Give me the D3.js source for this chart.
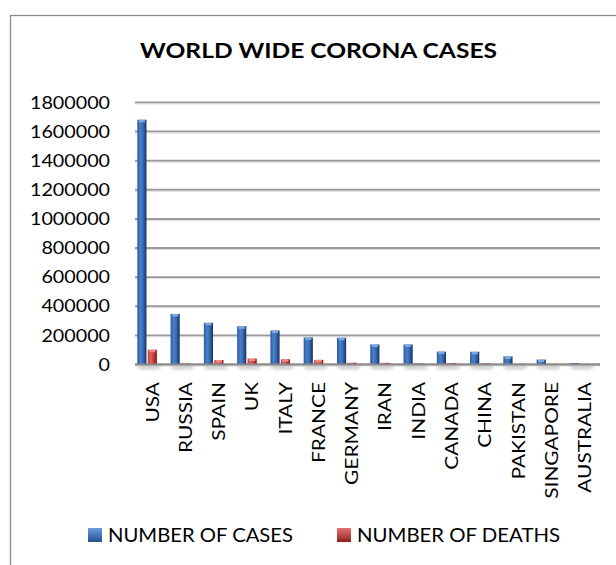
<!DOCTYPE html>
<html>
<head>
<meta charset="utf-8">
<script src="https://cdn.jsdelivr.net/npm/d3@7"></script>
<style>
  html, body { margin: 0; padding: 0; background: #fff; }
  svg { display: block; }
</style>
</head>
<body>
<svg id="chart" width="616" height="565"></svg>
<script>
const categories = ["USA","RUSSIA","SPAIN","UK","ITALY","FRANCE","GERMANY","IRAN","INDIA","CANADA","CHINA","PAKISTAN","SINGAPORE","AUSTRALIA"];
const cases  = [1678000, 344000, 283000, 259000, 230000, 182000, 180000, 134000, 134000, 85000, 84000, 52000, 30000, 7100];
const deaths = [98000, 3800, 27100, 37000, 32900, 28500, 8400, 7500, 3900, 6600, 4600, 1100, 23, 103];
const seriesNames = ["NUMBER OF CASES", "NUMBER OF DEATHS"];
const yTicks = [0, 200000, 400000, 600000, 800000, 1000000, 1200000, 1400000, 1600000, 1800000];
const titleText = "WORLD WIDE CORONA CASES";

const FONT = "Lato, 'Open Sans', sans-serif";
const STRETCH = 1.16;

const svg = d3.select("#chart");

// defs: gradients
const defs = svg.append("defs");
function hGrad(id, stops) {
  const g = defs.append("linearGradient").attr("id", id).attr("x1", "0").attr("x2", "1").attr("y1", "0").attr("y2", "0");
  stops.forEach(s => g.append("stop").attr("offset", s[0]).attr("stop-color", s[1]));
}
hGrad("gBlue", [[0, "#2c5b9e"], [0.35, "#4a7fc9"], [0.6, "#3a6db7"], [1, "#16335f"]]);
hGrad("gRed", [[0, "#c94440"], [0.35, "#e0605c"], [0.6, "#c8403c"], [1, "#7e1715"]]);
const blur = defs.append("filter").attr("id", "sh").attr("x", "-50%").attr("y", "-50%").attr("width", "200%").attr("height", "200%");
blur.append("feGaussianBlur").attr("stdDeviation", 1.6);

// chart border
svg.append("rect").attr("x", 10.5).attr("y", 15.5).attr("width", 640).attr("height", 600)
  .attr("fill", "none").attr("stroke", "#8a8a8a").attr("stroke-width", 1.3);

// title
svg.append("text").attr("x", 140).attr("y", 58)
  .attr("font-family", FONT).attr("font-weight", "bold").attr("font-size", 21)
  .attr("fill", "#000").attr("textLength", 357).attr("lengthAdjust", "spacingAndGlyphs")
  .text(titleText);

// scales
const x = d3.scaleBand().domain(categories).range([130.4, 596.3]);
const xSub = d3.scaleBand().domain(seriesNames).range([6.9, 26.5]).paddingInner(0.12);
const y = d3.scaleLinear().domain([0, 1800000]).range([364, 102]);

const gridX0 = 135, gridX1 = 600;

// y axis with gridlines
const yAxis = svg.append("g").attr("transform", `translate(${gridX0},0)`)
  .call(d3.axisLeft(y).tickValues(yTicks).tickFormat(d3.format("d")).tickSize(-(gridX1 - gridX0)).tickPadding(25));
yAxis.select(".domain").remove();
yAxis.selectAll(".tick line").attr("stroke", "#9a9a9a").attr("stroke-width", 2);
yAxis.selectAll(".tick").append("line").attr("x1", 0).attr("x2", gridX1 - gridX0).attr("y1", 1.5).attr("y2", 1.5)
  .attr("stroke", "#dedede").attr("stroke-width", 1);
yAxis.selectAll(".tick text")
  .attr("font-family", FONT).attr("font-size", 17).attr("fill", "#000").attr("dy", "0.36em")
  .each(function() {
    const t = d3.select(this);
    const len = this.getComputedTextLength();
    t.attr("textLength", len * STRETCH).attr("lengthAdjust", "spacingAndGlyphs");
  });

// bars
const groups = svg.append("g").selectAll("g").data(categories).join("g")
  .attr("transform", d => `translate(${x(d)},0)`);

const seriesData = (i) => [
  { name: seriesNames[0], value: cases[i], fill: "url(#gBlue)", cap: "#7fa8e0" },
  { name: seriesNames[1], value: deaths[i], fill: "url(#gRed)", cap: "#f08a86" }
];

groups.each(function(c, i) {
  const g = d3.select(this);
  const dat = seriesData(i);
  // shadows
  g.selectAll("ellipse.sh").data(dat).join("ellipse").attr("class", "sh")
    .attr("cx", d => xSub(d.name) + xSub.bandwidth() / 2 + 2)
    .attr("cy", y(0) + 3)
    .attr("rx", d => d.value > 0 ? xSub.bandwidth() * 0.75 : 0)
    .attr("ry", 3)
    .attr("fill", "#b5b5b5").attr("opacity", 0.55).attr("filter", "url(#sh)");
  g.selectAll("rect.bar").data(dat).join("rect").attr("class", "bar")
    .attr("x", d => xSub(d.name))
    .attr("width", xSub.bandwidth())
    .attr("y", d => y(d.value))
    .attr("height", d => y(0) - y(d.value))
    .attr("fill", d => d.fill);
  g.selectAll("rect.cap").data(dat.filter(d => y(0) - y(d.value) > 3)).join("rect").attr("class", "cap")
    .attr("x", d => xSub(d.name) + 1.5)
    .attr("width", xSub.bandwidth() - 3)
    .attr("y", d => y(d.value))
    .attr("height", 2.5)
    .attr("fill", d => d.cap);
});

// bottom axis line
svg.append("line").attr("x1", gridX0).attr("x2", gridX1).attr("y1", y(0) + 0.5).attr("y2", y(0) + 0.5)
  .attr("stroke", "#8c8c8c").attr("stroke-width", 2);

// x labels (rotated)
const xAxis = svg.append("g").attr("transform", `translate(0,${y(0)})`)
  .call(d3.axisBottom(x).tickSize(0).tickPadding(0));
xAxis.select(".domain").remove();
xAxis.selectAll(".tick").attr("transform", d => `translate(${x(d) + x.bandwidth() / 2 + 5},0)`);
xAxis.selectAll(".tick text")
  .attr("font-family", FONT).attr("font-size", 18).attr("fill", "#000")
  .attr("text-anchor", "end")
  .attr("transform", "translate(0,18) rotate(-90)")
  .attr("x", 0).attr("y", 0).attr("dy", "0.36em")
  .each(function() {
    const len = this.getComputedTextLength();
    d3.select(this).attr("textLength", len * STRETCH).attr("lengthAdjust", "spacingAndGlyphs");
  });

// legend
const legendItems = [
  { name: seriesNames[0], fill: "url(#gLegBlue)", sx: 88, tx: 108, tw: 185 },
  { name: seriesNames[1], fill: "url(#gLegRed)", sx: 337, tx: 357, tw: 203 }
];
function vGrad(id, c1, c2) {
  const g = defs.append("linearGradient").attr("id", id).attr("x1", "0").attr("x2", "0").attr("y1", "0").attr("y2", "1");
  g.append("stop").attr("offset", 0).attr("stop-color", c1);
  g.append("stop").attr("offset", 1).attr("stop-color", c2);
}
vGrad("gLegBlue", "#6d9ee0", "#234f8f");
vGrad("gLegRed", "#e87471", "#8e1f1c");
const legend = svg.append("g");
legend.selectAll("rect").data(legendItems).join("rect")
  .attr("x", d => d.sx).attr("y", 528).attr("width", 14).attr("height", 14).attr("fill", d => d.fill);
legend.selectAll("text").data(legendItems).join("text")
  .attr("x", d => d.tx).attr("y", 542)
  .attr("font-family", FONT).attr("font-size", 19).attr("fill", "#000")
  .attr("textLength", d => d.tw).attr("lengthAdjust", "spacingAndGlyphs")
  .text(d => d.name);
</script>
</body>
</html>
